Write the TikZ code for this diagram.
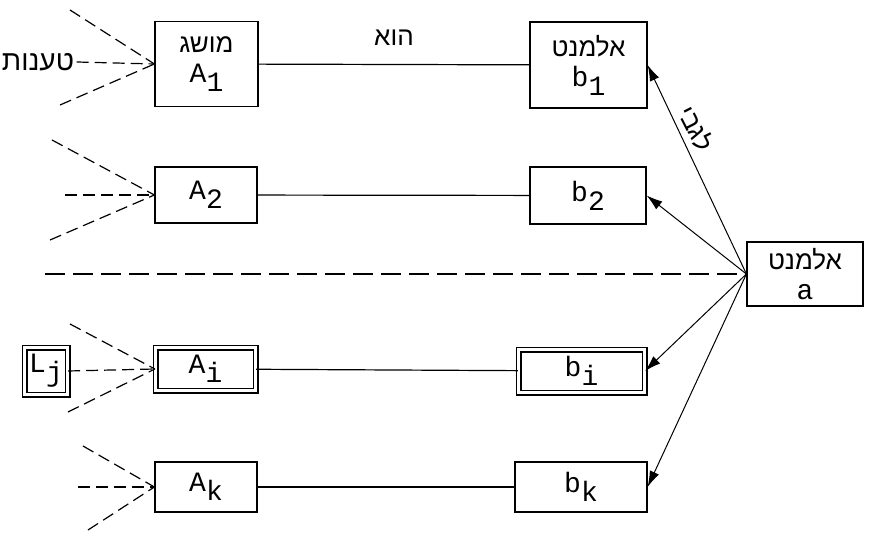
\documentclass[tikz,border=0pt]{standalone}
\usepackage{fontspec}
\setmonofont{Liberation Mono}
\newfontfamily\hebfont[Script=Hebrew]{Liberation Sans}
\TeXXeTstate=1
\usetikzlibrary{arrows,arrows.meta}
\newcommand{\heb}[1]{{\hebfont\fontsize{13}{15}\selectfont\beginR #1\endR}}
\newcommand{\lowidx}[2]{#1\raisebox{-4.5pt}{#2}}

\begin{document}
\begin{tikzpicture}[x = 0.5pt, y = -0.5pt, line width = 0.6pt,
  box/.style = {draw, inner sep = 0pt, align = center, font = \ttfamily\fontsize{14}{15}\selectfont},
  dbox/.style = {box, double, double distance = 1.8pt},
  fan/.style = {dash pattern = on 6pt off 3pt},
  toward/.style = {-{Latex[length = 8pt, width = 5pt]}, line width = 0.5pt}]
\useasboundingbox (0,0) rectangle (870,533);
%
\node[box, minimum width = 51.5pt, minimum height = 42.5pt] (A1) at (206.5,64) {\heb{מושג}\\\lowidx{A}{1}};
\node[box, minimum width = 51pt, minimum height = 28pt] (A2) at (206,195) {\lowidx{A}{2}};
\node[dbox, minimum width = 50pt, minimum height = 21.5pt] (Ai) at (205.5,369) {\lowidx{A}{i}};
\node[box, minimum width = 51pt, minimum height = 25pt] (Ak) at (206,487) {\lowidx{A}{k}};
\node[dbox, minimum width = 21.5pt, minimum height = 23.5pt] (Lj) at (46,371) {\lowidx{L}{j}};
%
\node[box, minimum width = 58.5pt, minimum height = 43pt] (b1) at (588.5,65) {\heb{אלמנט}\\\lowidx{b}{1}};
\node[box, minimum width = 58pt, minimum height = 28.5pt] (b2) at (588,195.5) {\lowidx{b}{2}};
\node[dbox, minimum width = 63pt, minimum height = 21.5pt] (bi) at (581.5,371) {\lowidx{b}{i}};
\node[box, minimum width = 66pt, minimum height = 25pt] (bk) at (581,487) {\lowidx{b}{k}};
\node[box, minimum width = 58pt, minimum height = 32pt] (a) at (805,274) {\heb{אלמנט}\\a};
%
\node[inner sep = 1pt] (claims) at (38,62) {\heb{\fontsize{14}{16}\selectfont טענות}};
%
\draw (A1) -- node[above = 6pt] (is) {\heb{הוא}} (b1);
\draw (A2) -- (b2);
\draw (Ai) -- (bi);
\draw (Ak) -- (bk);
%
\draw[dash pattern = on 10pt off 4pt] (45,274) coordinate (cut) -- (a.west);
%
\draw[toward] (a.west) -- node[pos = 0.66, rotate = -63, anchor = south, inner sep = 3pt] (about) {\heb{לגבי}} (b1.east);
\draw[toward] (a.west) -- (b2.east);
\draw[toward] (a.west) -- (bi.east);
\draw[toward] (a.west) -- (bk.east);
%
\draw[fan] (70,10) coordinate (f1a) -- (A1.west);
\draw[fan] (claims.east) -- (A1.west);
\draw[fan] (60,105) coordinate (f1b) -- (A1.west);
\draw[fan] (52,140) coordinate (f2a) -- (A2.west);
\draw[fan] (65,195) coordinate (f2m) -- (A2.west);
\draw[fan] (50,240) coordinate (f2b) -- (A2.west);
\draw[fan] (70,324) coordinate (fia) -- (Ai.west);
\draw[fan] (Lj.east) -- (Ai.west);
\draw[fan] (68,412) coordinate (fib) -- (Ai.west);
\draw[fan] (83,446) coordinate (fka) -- (Ak.west);
\draw[fan] (78,487) coordinate (fkm) -- (Ak.west);
\draw[fan] (88,530) coordinate (fkb) -- (Ak.west);
\end{tikzpicture}
\end{document}
